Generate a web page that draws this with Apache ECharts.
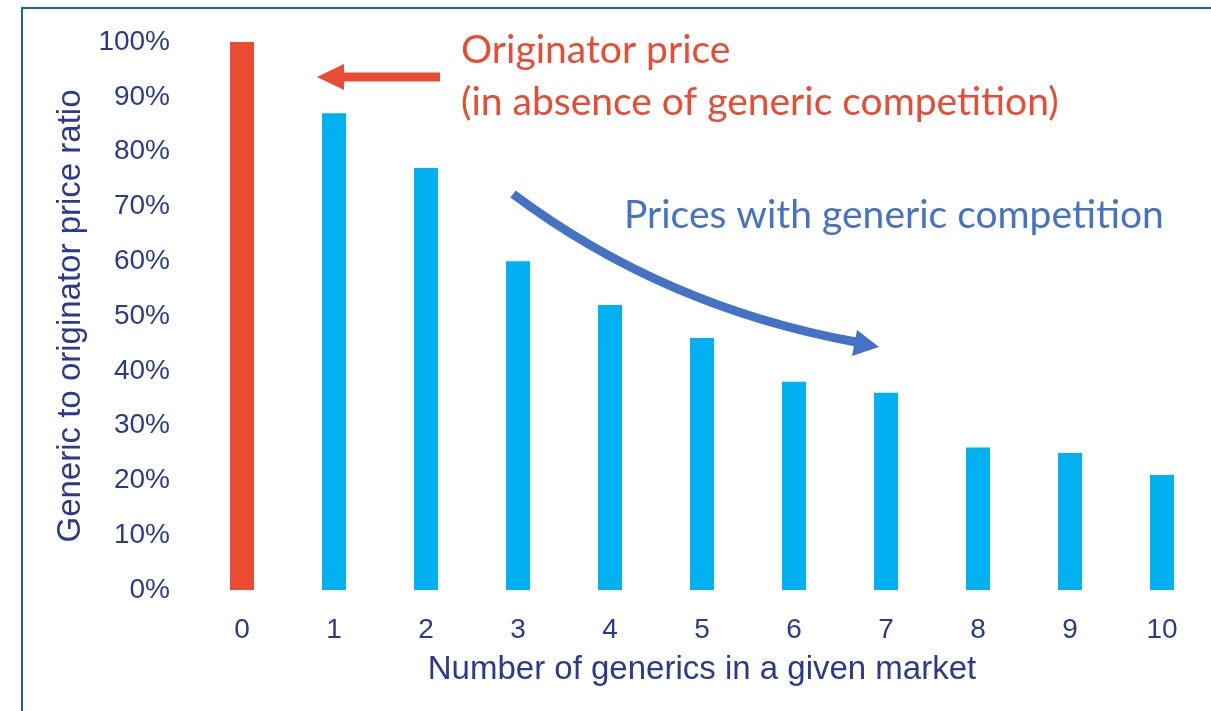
<!DOCTYPE html>
<html>
<head>
<meta charset="utf-8">
<title>Generic to originator price ratio</title>
<script src="https://cdn.jsdelivr.net/npm/echarts@6/dist/echarts.min.js"></script>
<style>
  html, body { margin: 0; padding: 0; background: #fff; }
  #chart { width: 1211px; height: 711px; }
</style>
</head>
<body>
<div id="chart"></div>
<script>
// number of generics on the market
var generics = ["0", "1", "2", "3", "4", "5", "6", "7", "8", "9", "10"];
// generic to originator price ratio, %
var priceRatio = [100, 87, 77, 60, 52, 46, 38, 36, 26, 25, 21];
var yTicks = [0, 10, 20, 30, 40, 50, 60, 70, 80, 90, 100];

var RED = "#e94b33";
var CYAN = "#00b0f0";
var NAVY = "#2b3a8c";
var ARROW_BLUE = "#4472c4";

var chart = echarts.init(document.getElementById("chart"));

chart.setOption({
  backgroundColor: "#fff",
  animation: false,
  grid: { left: 196, right: 3, top: 42, bottom: 121 },
  xAxis: {
    type: "category",
    data: generics,
    name: "Number of generics in a given market",
    nameLocation: "middle",
    nameGap: 63,
    nameTextStyle: { fontFamily: "Liberation Sans", fontSize: 33, color: NAVY },
    axisLine: { show: false },
    axisTick: { show: false },
    axisLabel: { fontFamily: "Liberation Sans", fontSize: 28, color: NAVY, margin: 26 }
  },
  yAxis: {
    type: "value",
    min: yTicks[0],
    max: yTicks[yTicks.length - 1],
    interval: yTicks[1] - yTicks[0],
    name: "Generic to originator price ratio",
    nameLocation: "middle",
    nameGap: 100,
    nameTextStyle: { fontFamily: "Liberation Sans", fontSize: 33, color: NAVY },
    axisLine: { show: false },
    axisTick: { show: false },
    splitLine: { show: false },
    axisLabel: {
      fontFamily: "Liberation Sans", fontSize: 28, color: NAVY, margin: 26,
      formatter: "{value}%"
    }
  },
  series: [
    {
      type: "bar",
      data: priceRatio,
      barWidth: 24,
      itemStyle: {
        // first bar = originator, rest = generics
        color: function (p) { return p.dataIndex === 0 ? RED : CYAN; }
      }
    }
  ],
  graphic: [
    // frame at top/left edge
    {
      type: "polyline",
      shape: { points: [[22, 711], [22, 8], [1211, 8]] },
      style: { stroke: "#1a6b88", lineWidth: 2, fill: null }
    },
    // red arrow pointing to originator bar
    {
      type: "line",
      shape: { x1: 440, y1: 77, x2: 340, y2: 77 },
      style: { stroke: RED, lineWidth: 9 }
    },
    {
      type: "polygon",
      shape: { points: [[317, 77], [344, 64], [344, 90]] },
      style: { fill: RED }
    },
    {
      type: "text",
      x: 461,
      y: 24,
      style: {
        text: "Originator price\n(in absence of generic competition)",
        fill: RED,
        font: "39px Lato",
        lineHeight: 52,
        verticalAlign: "top"
      }
    },
    // blue curved arrow
    {
      type: "bezierCurve",
      shape: { x1: 513, y1: 194, cpx1: 664, cpy1: 307, x2: 856, y2: 342 },
      style: { stroke: ARROW_BLUE, lineWidth: 9, fill: null }
    },
    {
      type: "polygon",
      shape: { points: [[879, 347], [852, 356], [857, 330]] },
      style: { fill: ARROW_BLUE }
    },
    {
      type: "text",
      x: 624,
      y: 215,
      style: {
        text: "Prices with generic competition",
        fill: ARROW_BLUE,
        font: "39px Lato",
        verticalAlign: "middle"
      }
    }
  ]
});
</script>
</body>
</html>
